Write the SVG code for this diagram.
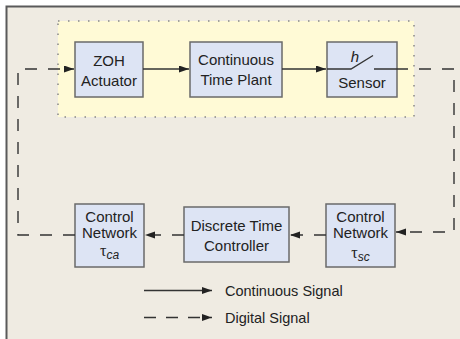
<svg xmlns="http://www.w3.org/2000/svg" width="460" height="339" viewBox="0 0 460 339">
<defs>
<marker id="ah" markerUnits="userSpaceOnUse" markerWidth="11" markerHeight="8" refX="10" refY="3.5" orient="auto">
<path d="M0,0 L10,3.5 L0,7 z" fill="#222"/>
</marker>
<style>
.box{fill:#dde4f4;stroke:#6a6a6a;stroke-width:1.5}
.t{font-family:"Liberation Sans",Arial,sans-serif;font-size:15px;fill:#222;text-anchor:middle}
.lg{font-family:"Liberation Sans",Arial,sans-serif;font-size:14.5px;fill:#222}
.sol{fill:none;stroke:#333;stroke-width:1.4}
.dash{fill:none;stroke:#333;stroke-width:1.4;stroke-dasharray:12 11}
.tau{font-family:"Liberation Serif","DejaVu Serif",serif;font-size:16px}
.sub{font-family:"Liberation Sans",Arial,sans-serif;font-style:italic;font-size:12px}
</style>
</defs>
<rect x="0" y="0" width="460" height="339" fill="#ffffff"/>
<rect x="6.5" y="6.5" width="460" height="340" fill="#efebe2" stroke="#5a5a5a" stroke-width="2"/>
<rect x="58" y="21" width="356" height="96" fill="#fffad6" stroke="#888" stroke-width="1.5" stroke-dasharray="1.5 8.5"/>

<g id="zoh">
<rect class="box" x="75" y="42" width="68" height="55"/>
<text class="t" x="109" y="66">ZOH</text>
<text class="t" x="109" y="86">Actuator</text>
</g>
<g id="plant">
<rect class="box" x="190" y="42" width="92" height="55"/>
<text class="t" x="236" y="65">Continuous</text>
<text class="t" x="236" y="85">Time Plant</text>
</g>
<g id="sensor">
<rect class="box" x="327" y="42" width="70" height="55"/>
<text class="t" x="355" y="62" style="font-style:italic">h</text>
<text class="t" x="362" y="88">Sensor</text>
<path class="sol" d="M327,69 L351,69 L373,55.5 M374,69 L408,69"/>
</g>
<g id="net_sc">
<rect class="box" x="326" y="204" width="69" height="63"/>
<text class="t" x="360.5" y="222">Control</text>
<text class="t" x="360.5" y="238">Network</text>
<text class="t" x="360.5" y="258"><tspan class="tau">τ</tspan><tspan class="sub" dy="3">sc</tspan></text>
</g>
<g id="controller">
<rect class="box" x="184" y="207" width="105" height="55"/>
<text class="t" x="236.5" y="231">Discrete Time</text>
<text class="t" x="236.5" y="251">Controller</text>
</g>
<g id="net_ca">
<rect class="box" x="75" y="204" width="69" height="63"/>
<text class="t" x="109.5" y="222">Control</text>
<text class="t" x="109.5" y="238">Network</text>
<text class="t" x="109.5" y="256"><tspan class="tau">τ</tspan><tspan class="sub" dy="3">ca</tspan></text>
</g>

<g id="connectors">
<path class="sol" d="M143,69 L189,69" marker-end="url(#ah)"/>
<path class="sol" d="M282,69 L326,69" marker-end="url(#ah)"/>
<path class="dash" style="stroke-dashoffset:12" d="M408,69 L454,69 L454,232 L396,232" marker-end="url(#ah)"/>
<path class="dash" d="M326,235 L290,235" marker-end="url(#ah)"/>
<path class="dash" d="M184,235 L145,235" marker-end="url(#ah)"/>
<path class="dash" d="M75,235 L18,235 L18,69 L74,69" marker-end="url(#ah)"/>
</g>

<g id="legend">
<path class="sol" d="M144,290.5 L212,290.5" marker-end="url(#ah)"/>
<path class="dash" style="stroke-dasharray:12 10" d="M144,317.5 L212,317.5" marker-end="url(#ah)"/>
<text class="lg" x="225" y="296">Continuous Signal</text>
<text class="lg" x="225" y="323">Digital Signal</text>
</g>
</svg>
